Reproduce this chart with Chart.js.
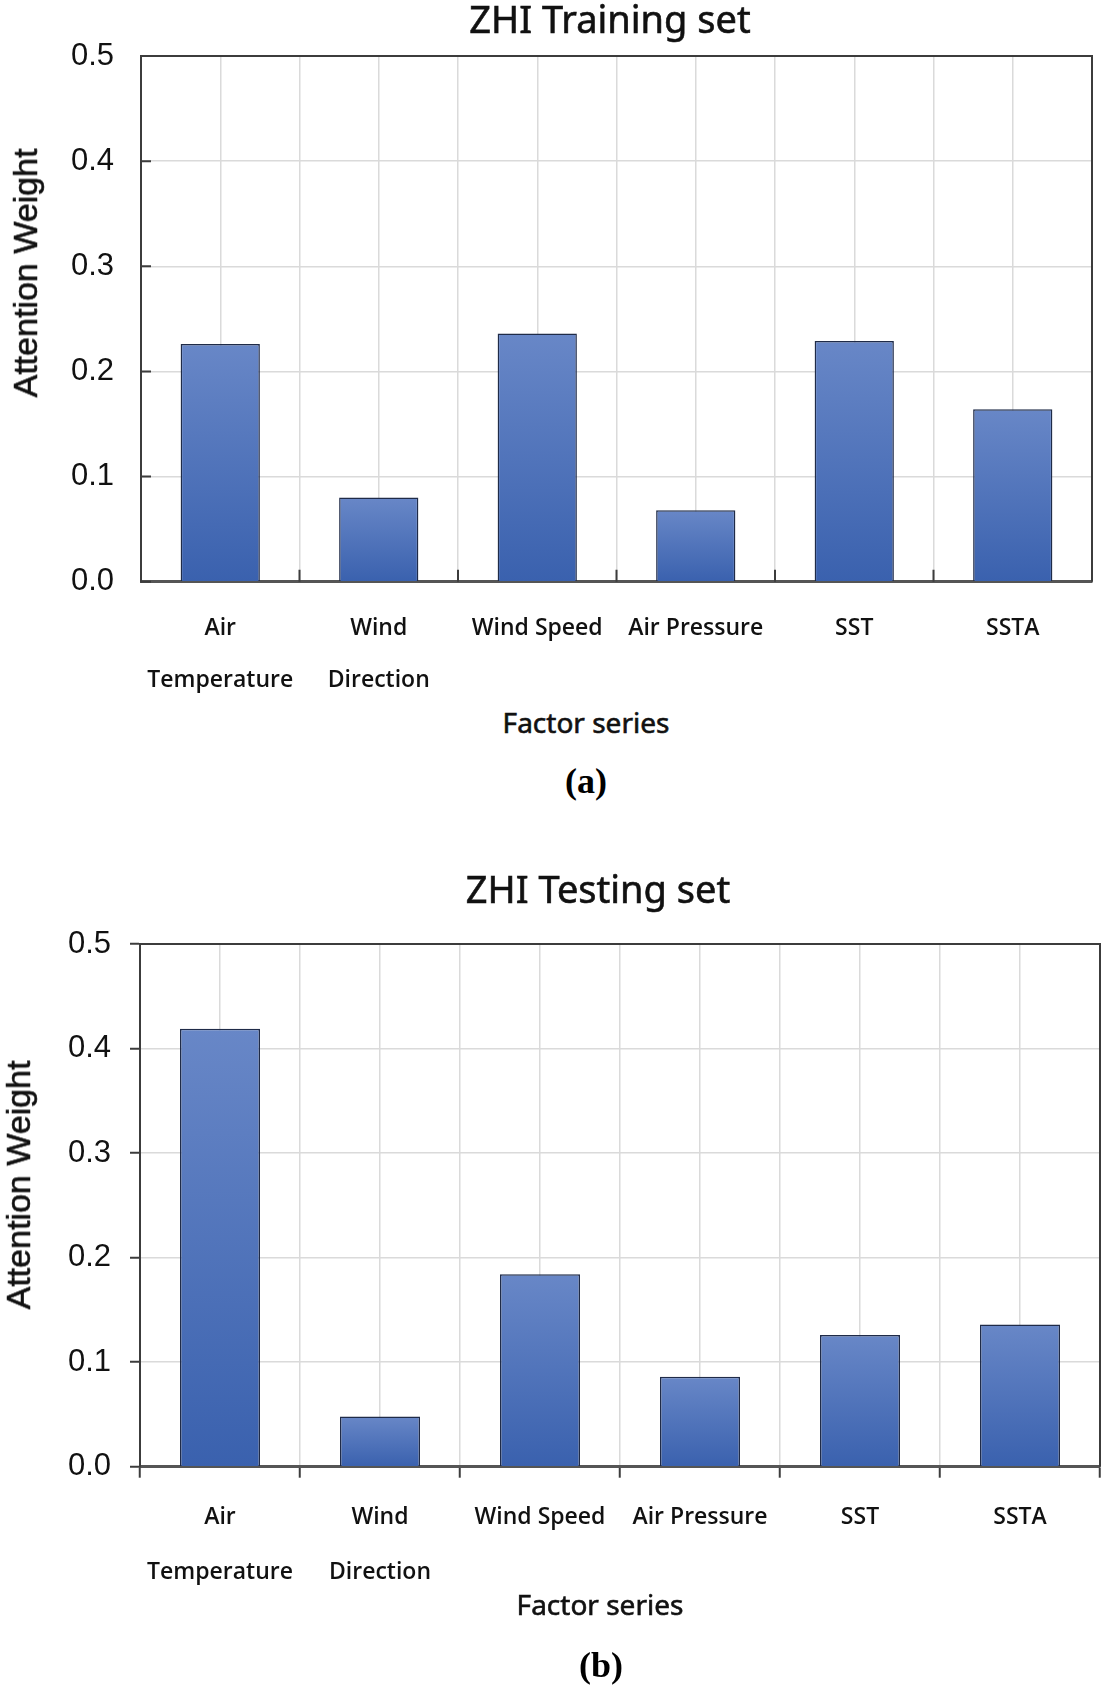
<!DOCTYPE html>
<html>
<head>
<meta charset="utf-8">
<title>ZHI attention weights</title>
<script src="https://cdn.jsdelivr.net/npm/chart.js@4.4.1/dist/chart.umd.min.js"></script>
<style>
  body { margin: 0; background: #fff; }
  #page { position: relative; width: 1105px; height: 1686px; background: #fff; overflow: hidden; }
  .chart-box { position: absolute; left: 0; width: 1105px; }
  .lbl {
    position: absolute;
    transform: translate(-50%, -50%);
    white-space: nowrap;
    line-height: 1;
    color: #111;
    font-family: "Noto Sans", "Open Sans", sans-serif;
    -webkit-text-stroke: 0.6px #111;
    z-index: 2;
  }
  .chart-title { font-size: 38px; }
  .axis-title { font-size: 28px; }
  .y-title { font-size: 34px; transform: translate(-50%, -50%) rotate(-90deg); font-family: "Liberation Sans", Arial, sans-serif; }
  .panel { font-family: "Liberation Serif", "Times New Roman", serif; font-weight: bold; font-size: 36px; color: #000; -webkit-text-stroke: 0; }
</style>
</head>
<body>
<div id="page">
  <div class="lbl chart-title" style="left:610px;top:18px">ZHI Training set</div>
  <div class="lbl y-title" style="left:25px;top:273px">Attention Weight</div>
  <div class="lbl axis-title" style="left:586px;top:722px">Factor series</div>
  <div class="lbl panel" style="left:586px;top:781px">(a)</div>
  <div class="chart-box" style="top:0;height:700px"><canvas id="trainChart"></canvas></div>

  <div class="lbl chart-title" style="left:598px;top:888px">ZHI Testing set</div>
  <div class="lbl y-title" style="left:18px;top:1185px">Attention Weight</div>
  <div class="lbl axis-title" style="left:600px;top:1604px">Factor series</div>
  <div class="lbl panel" style="left:601px;top:1665px">(b)</div>
  <div class="chart-box" style="top:850px;height:750px"><canvas id="testChart"></canvas></div>
</div>

<script>
const factorLabels = [['Air', 'Temperature'], ['Wind', 'Direction'], 'Wind Speed', 'Air Pressure', 'SST', 'SSTA'];
const trainingWeights = [0.226, 0.080, 0.236, 0.068, 0.229, 0.164];
const testingWeights = [0.419, 0.048, 0.184, 0.086, 0.126, 0.136];
const weightMin = 0;
const weightMax = 0.5;
const weightStep = 0.1;

const gridColor = '#dadada';
const axisColor = '#3c3c3c';

// top/right frame, plus the short inward ticks of panel (a)
const framePlugin = {
  id: 'frame',
  afterDatasetsDraw(chart, args, opts) {
    const { ctx, chartArea: area, scales } = chart;
    ctx.save();
    ctx.strokeStyle = axisColor;
    ctx.lineWidth = 2;
    ctx.beginPath();
    ctx.moveTo(area.left, area.top);
    ctx.lineTo(area.right, area.top);
    ctx.lineTo(area.right, area.bottom);
    ctx.stroke();

    if (opts.innerTicks) {
      ctx.beginPath();
      scales.y.ticks.forEach((t) => {
        const py = scales.y.getPixelForValue(t.value);
        ctx.moveTo(area.left, py);
        ctx.lineTo(area.left + 10, py);
      });
      const n = chart.data.labels.length;
      for (let k = 1; k < n; k++) {
        const px = area.left + (area.right - area.left) * k / n;
        ctx.moveTo(px, area.bottom);
        ctx.lineTo(px, area.bottom - 12);
      }
      ctx.stroke();
    }
    ctx.restore();
  }
};

function barGradient(context) {
  const chart = context.chart;
  if (!chart.chartArea) return '#4a6fb8';
  const y = chart.scales.y;
  const top = y.getPixelForValue(context.raw);
  const base = y.getPixelForValue(0);
  const g = chart.ctx.createLinearGradient(0, top, 0, base);
  g.addColorStop(0, '#6887c7');
  g.addColorStop(1, '#3a61ae');
  return g;
}

function buildChart(canvasId, values, cfg) {
  return new Chart(document.getElementById(canvasId), {
    type: 'bar',
    data: {
      labels: factorLabels,
      datasets: [{
        data: values,
        backgroundColor: barGradient,
        borderColor: '#1f2b48',
        borderWidth: 1.5,
        barPercentage: 0.5,
        categoryPercentage: 1.0
      }]
    },
    options: {
      responsive: true,
      maintainAspectRatio: false,
      animation: false,
      layout: { padding: { top: cfg.top, right: cfg.right, left: 0, bottom: 0 } },
      plugins: {
        legend: { display: false },
        tooltip: { enabled: false },
        frame: { innerTicks: cfg.innerTicks }
      },
      scales: {
        x: {
          type: 'category',
          offset: true,
          grid: {
            offset: true,
            color: gridColor,
            lineWidth: 1.5,
            drawTicks: !cfg.innerTicks,
            tickLength: 11,
            tickColor: axisColor,
            tickWidth: 2
          },
          border: { display: true, color: '#555', width: 3 },
          ticks: {
            color: '#111',
            padding: cfg.xPad,
            maxRotation: 0,
            autoSkip: false,
            font: { family: '"Open Sans", "Noto Sans", sans-serif', size: 23, weight: '600', lineHeight: cfg.xLine / 23 }
          },
          afterFit: (scale) => { scale.height = cfg.xHeight; }
        },
        xc: {
          type: 'category',
          position: 'bottom',
          offset: true,
          grid: { offset: false, color: gridColor, lineWidth: 1.5, drawTicks: false },
          border: { display: false },
          ticks: { display: false },
          afterFit: (scale) => { scale.height = 0; }
        },
        y: {
          min: weightMin,
          max: weightMax,
          ticks: {
            stepSize: weightStep,
            color: '#111',
            padding: cfg.yPad,
            font: { family: '"Liberation Sans", Arial, sans-serif', size: 31 },
            callback: (v) => Number(v).toFixed(1)
          },
          grid: {
            color: gridColor,
            lineWidth: 1.5,
            drawTicks: !cfg.innerTicks,
            tickLength: 10,
            tickColor: axisColor,
            tickWidth: 2
          },
          border: { display: true, color: axisColor, width: 2 },
          afterFit: (scale) => { scale.width = cfg.yWidth; }
        }
      }
    },
    plugins: [framePlugin]
  });
}

buildChart('trainChart', trainingWeights, {
  top: 56, right: 13, yWidth: 141, xHeight: 118.3,
  xPad: 21, xLine: 52, yPad: 27, innerTicks: true
});

buildChart('testChart', testingWeights, {
  top: 94, right: 5, yWidth: 140, xHeight: 133.3,
  xPad: 12, xLine: 55, yPad: 19, innerTicks: false
});
</script>
</body>
</html>
